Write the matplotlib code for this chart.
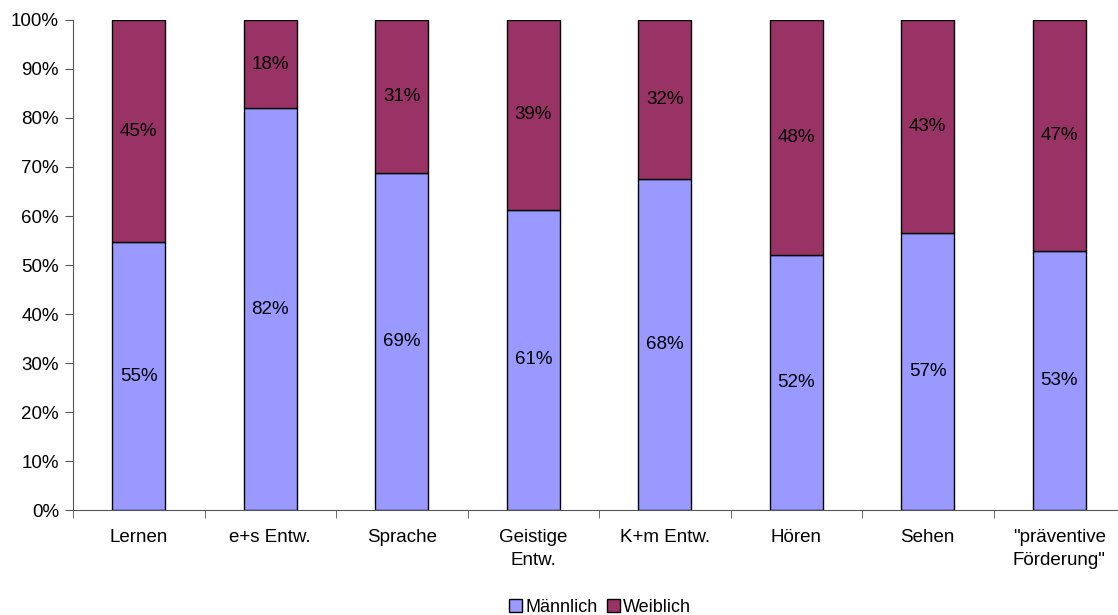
import matplotlib
matplotlib.use('Agg')
import matplotlib.pyplot as plt
from matplotlib.ticker import FixedLocator, PercentFormatter

plt.rcParams['font.family'] = ['Liberation Sans', 'DejaVu Sans']

# Daten
kategorien = ['Lernen', 'e+s Entw.', 'Sprache', 'Geistige\nEntw.', 'K+m Entw.',
              'Hören', 'Sehen', '"präventive\nFörderung"']
maennlich = [54.6, 82.0, 68.8, 61.3, 67.6, 52.0, 56.6, 52.8]
weiblich = [45.4, 18.0, 31.2, 38.7, 32.4, 48.0, 43.4, 47.2]

farbe_m = '#9999FF'
farbe_w = '#993366'

fig = plt.figure(figsize=(11.18, 6.15), dpi=100)
ax = fig.add_axes([0.0653, 0.1707, 0.941, 0.7968])

x = range(len(kategorien))
b1 = ax.bar(x, maennlich, width=0.4, color=farbe_m, edgecolor='black', linewidth=1, label='Männlich')
b2 = ax.bar(x, weiblich, width=0.4, bottom=maennlich, color=farbe_w, edgecolor='black', linewidth=1, label='Weiblich')

for i in x:
    ax.text(i, maennlich[i] / 2, '%d%%' % round(maennlich[i]), ha='center', va='center', fontsize=13.5)
    ax.text(i, maennlich[i] + weiblich[i] / 2, '%d%%' % round(weiblich[i]), ha='center', va='center', fontsize=13.5)

ax.set_xlim(-0.5, len(kategorien) - 0.5)
ax.set_ylim(0, 100)
ax.set_yticks(range(0, 101, 10))
ax.yaxis.set_major_formatter(PercentFormatter(decimals=0))
ax.set_xticks(list(x))
ax.set_xticklabels(kategorien, fontsize=13.5, linespacing=1.45)
ax.xaxis.set_minor_locator(FixedLocator([i + 0.5 for i in range(-1, len(kategorien))]))
ax.tick_params(axis='x', which='major', length=0, pad=14)
ax.tick_params(axis='x', which='minor', length=6, color='#555555')
ax.tick_params(axis='y', length=6, color='#555555', labelsize=13.5, pad=4)

for s in ['top', 'right']:
    ax.spines[s].set_visible(False)
for s in ['left', 'bottom']:
    ax.spines[s].set_color('#555555')

fig.legend(handles=[b1, b2], loc='lower center', bbox_to_anchor=(0.537, -0.028), ncol=2,
           frameon=False, fontsize=13, handlelength=0.7, handleheight=0.7,
           handletextpad=0.2, columnspacing=0.5)

plt.savefig('out.png', dpi=100)
